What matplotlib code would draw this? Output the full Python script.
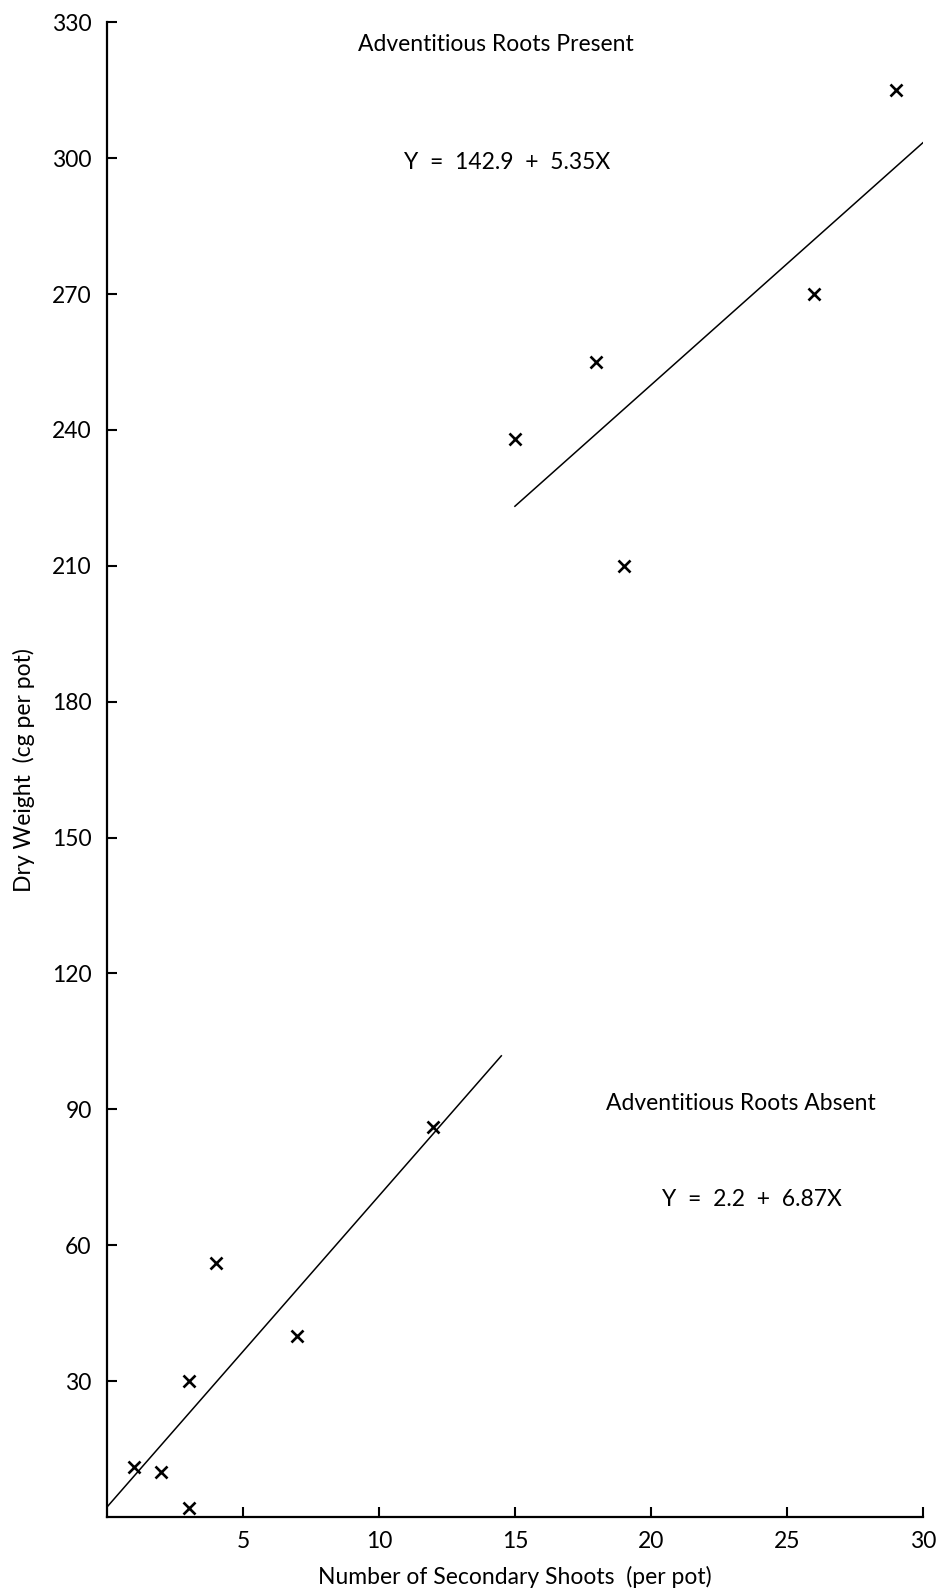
import matplotlib
matplotlib.use("Agg")
import matplotlib.pyplot as plt
import numpy as np

plt.rcParams['font.family'] = ['Lato', 'DejaVu Sans']
plt.rcParams['text.color'] = 'black'

# Data: adventitious roots present
present_x = [15, 18, 19, 26, 29]
present_y = [238, 255, 210, 270, 315]
present_fit = (142.9, 5.35)
present_range = [15, 30]

# Data: adventitious roots absent
absent_x = [1, 2, 3, 3, 4, 7, 12]
absent_y = [11, 10, 2, 30, 56, 40, 86]
absent_fit = (2.2, 6.87)
absent_range = [0, 14.5]

xticks = [5, 10, 15, 20, 25, 30]
yticks = [30, 60, 90, 120, 150, 180, 210, 240, 270, 300, 330]

fig = plt.figure(figsize=(9.41, 15.91), dpi=100)
ax = fig.add_axes([0.1137, 0.0465, 0.867, 0.9395])

ax.plot(present_x, present_y, linestyle='none', marker='x', color='black',
        markersize=8.5, markeredgewidth=1.9)
ax.plot(absent_x, absent_y, linestyle='none', marker='x', color='black',
        markersize=8.5, markeredgewidth=1.9)

px = np.array(present_range, dtype=float)
ax.plot(px, present_fit[0] + present_fit[1] * px, color='black', lw=1.1)
axx = np.array(absent_range, dtype=float)
ax.plot(axx, absent_fit[0] + absent_fit[1] * axx, color='black', lw=1.1)

ax.set_xlim(0, 30)
ax.set_ylim(0, 330)
ax.set_xticks(xticks)
ax.set_yticks(yticks)
ax.set_xticklabels([str(t) for t in xticks])
ax.set_yticklabels([str(t) for t in yticks])

for s in ['top', 'right']:
    ax.spines[s].set_visible(False)
for s in ['left', 'bottom']:
    ax.spines[s].set_linewidth(1.6)
    ax.spines[s].set_color('black')

ax.tick_params(axis='both', direction='in', length=7, width=1.5,
               labelsize=16.5, colors='black', labelcolor='black')
ax.tick_params(axis='y', pad=11)
ax.tick_params(axis='x', pad=10)

fs = 16.5
ax.set_xlabel('Number of Secondary Shoots  (per pot)', fontsize=fs,
              color='black', labelpad=10)
ax.set_ylabel('Dry Weight  (cg per pot)', fontsize=fs, color='black',
              labelpad=12)

ax.text(14.3, 325, 'Adventitious Roots Present', ha='center', va='center',
        fontsize=fs, color='black')
ax.text(14.7, 299, 'Y  =  142.9  +  5.35X', ha='center', va='center',
        fontsize=fs, color='black')
ax.text(23.3, 91.3, 'Adventitious Roots Absent', ha='center', va='center',
        fontsize=fs, color='black')
ax.text(23.7, 70, 'Y  =  2.2  +  6.87X', ha='center', va='center',
        fontsize=fs, color='black')

fig.savefig('out.png', dpi=100)
